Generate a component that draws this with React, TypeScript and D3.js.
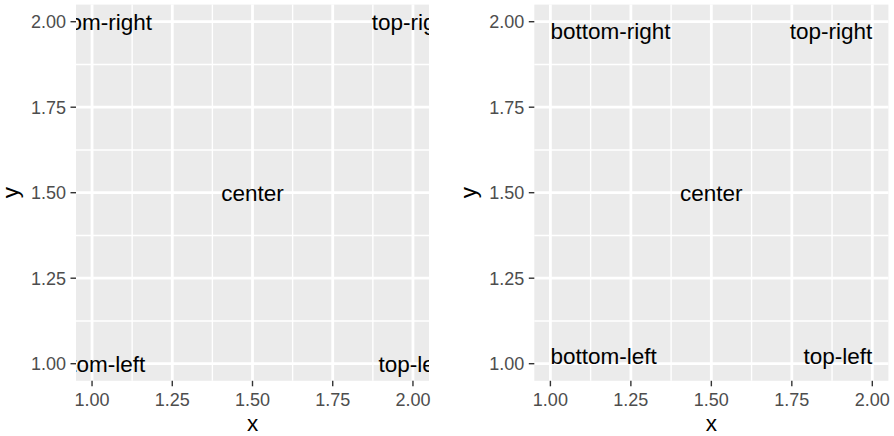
import React from "react";
import * as d3 from "d3";

// ---- data ----
const labels = ["bottom-left", "top-left", "bottom-right", "top-right", "center"];
const xs = [1, 2, 1, 2, 1.5];
const ys = [1, 1, 2, 2, 1.5];
const tickValues = [1.0, 1.25, 1.5, 1.75, 2.0];
const minorValues = [1.125, 1.375, 1.625, 1.875];
const domain: [number, number] = [0.95, 2.05];

const FONT = "'Liberation Sans', Arial, Helvetica, sans-serif";
const W = 894;
const H = 436;

type PanelProps = {
  left: number;
  right: number;
  top: number;
  bottom: number;
  inward: boolean;
  id: string;
};

function inwardH(v: number, d: [number, number]) {
  const mid = (d[0] + d[1]) / 2;
  if (v < mid - 1e-9) return 0;
  if (v > mid + 1e-9) return 1;
  return 0.5;
}

function Panel({ left, right, top, bottom, inward, id }: PanelProps) {
  const x = d3.scaleLinear().domain(domain).range([left, right]);
  const y = d3.scaleLinear().domain(domain).range([bottom, top]);
  const fmt = d3.format(".2f");
  const tickLen = 5.5;
  const textSize = 22.5;
  const tickSize = 18;
  const dataDomain: [number, number] = [1, 2];

  return (
    <g>
      <defs>
        <clipPath id={id}>
          <rect x={left} y={top} width={right - left} height={bottom - top} />
        </clipPath>
      </defs>
      <rect x={left} y={top} width={right - left} height={bottom - top} fill="#EBEBEB" />
      {minorValues.map((v) => (
        <line key={"mx" + v} x1={x(v)} x2={x(v)} y1={top} y2={bottom} stroke="#fff" strokeWidth={1.4} />
      ))}
      {minorValues.map((v) => (
        <line key={"my" + v} y1={y(v)} y2={y(v)} x1={left} x2={right} stroke="#fff" strokeWidth={1.4} />
      ))}
      {tickValues.map((v) => (
        <line key={"gx" + v} x1={x(v)} x2={x(v)} y1={top} y2={bottom} stroke="#fff" strokeWidth={2.8} />
      ))}
      {tickValues.map((v) => (
        <line key={"gy" + v} y1={y(v)} y2={y(v)} x1={left} x2={right} stroke="#fff" strokeWidth={2.8} />
      ))}
      <g clipPath={`url(#${id})`}>
        {labels.map((lab, i) => {
          const hj = inward ? inwardH(xs[i], dataDomain) : 0.5;
          const vj = inward ? inwardH(ys[i], dataDomain) : 0.5;
          const anchor = hj === 0 ? "start" : hj === 1 ? "end" : "middle";
          // vertical: vj=1 -> top aligned, vj=0 -> bottom aligned, 0.5 -> centered
          const dy = vj === 1 ? 17.5 : vj === 0 ? 0.5 : 8;
          return (
            <text
              key={lab}
              x={x(xs[i])}
              y={y(ys[i]) + dy}
              textAnchor={anchor}
              fontSize={textSize}
              fontFamily={FONT}
              fill="#000"
            >
              {lab}
            </text>
          );
        })}
      </g>
      {/* x axis */}
      {tickValues.map((v) => (
        <g key={"xt" + v}>
          <line x1={x(v)} x2={x(v)} y1={bottom} y2={bottom + tickLen} stroke="#333" strokeWidth={1.4} />
          <text x={x(v)} y={bottom + 25.5} textAnchor="middle" fontSize={tickSize} fontFamily={FONT} fill="#4D4D4D">
            {fmt(v)}
          </text>
        </g>
      ))}
      {/* y axis */}
      {tickValues.map((v) => (
        <g key={"yt" + v}>
          <line x1={left - tickLen} x2={left} y1={y(v)} y2={y(v)} stroke="#333" strokeWidth={1.4} />
          <text x={left - 10} y={y(v) + 6.5} textAnchor="end" fontSize={tickSize} fontFamily={FONT} fill="#4D4D4D">
            {fmt(v)}
          </text>
        </g>
      ))}
      <text x={(left + right) / 2} y={431} textAnchor="middle" fontSize={textSize} fontFamily={FONT} fill="#000">
        x
      </text>
      <text
        transform={`translate(${left - 58},${(top + bottom) / 2}) rotate(-90)`}
        textAnchor="middle"
        fontSize={textSize}
        fontFamily={FONT}
        fill="#000"
      >
        y
      </text>
    </g>
  );
}

export default function App() {
  return (
    <svg width={W} height={H} style={{ position: "absolute", left: 0, top: 0, background: "#fff" }}>
      <rect x={0} y={0} width={W} height={H} fill="#fff" />
      <Panel left={76} right={429} top={4.6} bottom={380.8} inward={false} id="clipL" />
      <Panel left={534.3} right={888.4} top={4.6} bottom={380.8} inward={true} id="clipR" />
    </svg>
  );
}
